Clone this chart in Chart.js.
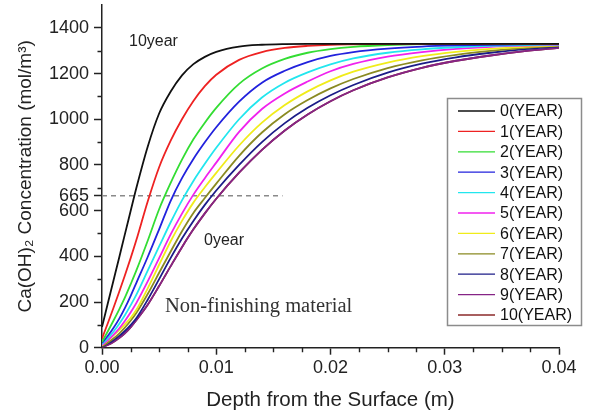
<!DOCTYPE html>
<html>
<head>
<meta charset="utf-8">
<script src="https://cdn.jsdelivr.net/npm/chart.js@4.4.1/dist/chart.umd.min.js"></script>
<style>
html,body{margin:0;padding:0;background:#fff;}
canvas{display:block;}
</style>
</head>
<body>
<canvas id="c" width="593" height="419"></canvas>
<script>
// ---- data ----
const depth = [0, 0.0005, 0.001, 0.0015, 0.002, 0.0025, 0.003, 0.004, 0.005, 0.006, 0.007, 0.008, 0.009, 0.010, 0.012, 0.014, 0.016, 0.018, 0.020, 0.022, 0.025, 0.028, 0.031, 0.034, 0.037, 0.040];

const year0  = [91, 192, 293, 394, 496, 597, 698, 880, 1025, 1120, 1192, 1241, 1273, 1295, 1318, 1326, 1329, 1330, 1330, 1330, 1330, 1330, 1330, 1330, 1330, 1330];
const year1  = [40, 106, 174, 244, 316, 391, 470, 640, 790, 905, 1000, 1080, 1145, 1195, 1260, 1294, 1312, 1321, 1326, 1328, 1330, 1330, 1330, 1330, 1330, 1330];
const year2  = [25, 71, 118, 167, 219, 277, 337, 468, 606, 720, 823, 912, 985, 1050, 1155, 1222, 1264, 1291, 1307, 1317, 1325, 1329, 1330, 1330, 1330, 1330];
const year3  = [21, 51, 86, 126, 173, 226, 283, 397, 518, 642, 742, 826, 899, 965, 1077, 1160, 1212, 1250, 1277, 1294, 1309, 1318, 1323, 1326, 1328, 1329];
const year4  = [16, 41, 70, 104, 142, 185, 231, 337, 443, 548, 645, 730, 805, 875, 1000, 1095, 1160, 1205, 1240, 1266, 1291, 1306, 1315, 1321, 1325, 1327];
const year5  = [12, 32, 56, 84, 117, 154, 195, 290, 392, 495, 587, 670, 742, 810, 945, 1045, 1113, 1165, 1210, 1242, 1274, 1294, 1308, 1317, 1322, 1325];
const year6  = [10, 32, 54, 77, 102, 130, 165, 260, 363, 465, 555, 635, 702, 765, 885, 985, 1062, 1122, 1170, 1208, 1248, 1276, 1295, 1308, 1317, 1323];
const year7  = [7, 22, 40, 62, 88, 118, 152, 235, 328, 420, 510, 590, 655, 718, 840, 942, 1022, 1084, 1135, 1176, 1224, 1258, 1282, 1299, 1312, 1322];
const year8  = [5, 18, 33, 51, 73, 99, 129, 210, 300, 392, 478, 555, 625, 688, 800, 900, 983, 1050, 1105, 1150, 1204, 1243, 1271, 1291, 1307, 1319];
const year9  = [3, 12, 25, 42, 63, 89, 120, 188, 270, 356, 440, 518, 588, 652, 766, 866, 951, 1021, 1079, 1127, 1183, 1225, 1256, 1279, 1298, 1313];
const year10 = [3, 12, 25, 42, 63, 89, 120, 188, 270, 356, 440, 518, 588, 652, 766, 866, 951, 1021, 1079, 1127, 1183, 1225, 1256, 1279, 1298, 1313];

const seriesNames = ['0(YEAR)', '1(YEAR)', '2(YEAR)', '3(YEAR)', '4(YEAR)', '5(YEAR)', '6(YEAR)', '7(YEAR)', '8(YEAR)', '9(YEAR)', '10(YEAR)'];
const seriesValues = [year0, year1, year2, year3, year4, year5, year6, year7, year8, year9, year10];

const thresholdDepth = [0, 0.0158];
const thresholdValue = [665, 665];

const xTickValues = [0, 0.01, 0.02, 0.03, 0.04];
const xMinorTicks = [0.0025, 0.005, 0.0075, 0.0125, 0.015, 0.0175, 0.0225, 0.025, 0.0275, 0.0325, 0.035, 0.0375];
const yTickValues = [0, 200, 400, 600, 665, 800, 1000, 1200, 1400];
const yMinorTicks = [100, 300, 500, 700, 900, 1100, 1300];

const annotationTexts = ['10year', '0year', 'Non-finishing material'];

// ---- styles ----
const colors = ['#111111', '#ee2222', '#33dd33', '#2222dd', '#22e6ee', '#f022ee', '#f0ec1a', '#8a8a22', '#1c1c88', '#862486', '#8b2a2a'];
const SANS = '"Liberation Sans", Arial, sans-serif';
const SERIF = '"Liberation Serif", "Times New Roman", serif';

const datasets = seriesValues.map((vals, i) => ({
  label: seriesNames[i],
  data: depth.map((d, k) => ({x: d, y: vals[k]})),
  borderColor: colors[i],
  backgroundColor: colors[i],
  borderWidth: 1.8,
  pointRadius: 0,
  fill: false,
  cubicInterpolationMode: 'monotone'
}));
datasets.push({
  label: 'threshold',
  data: thresholdDepth.map((d, k) => ({x: d, y: thresholdValue[k]})),
  borderColor: '#8a8a8a',
  borderWidth: 1.5,
  borderDash: [5, 4],
  pointRadius: 0,
  fill: false
});

const extras = {
  id: 'extras',
  afterDraw(chart) {
    const ctx = chart.ctx;
    const xs = chart.scales.x, ys = chart.scales.y;
    ctx.save();
    // minor ticks
    ctx.strokeStyle = '#222';
    ctx.lineWidth = 1.4;
    ctx.beginPath();
    yMinorTicks.forEach(v => {
      const py = Math.round(ys.getPixelForValue(v)) + 0.5;
      ctx.moveTo(xs.left - 4.5, py);
      ctx.lineTo(xs.left, py);
    });
    xMinorTicks.forEach(v => {
      const px = Math.round(xs.getPixelForValue(v)) + 0.5;
      ctx.moveTo(px, ys.bottom);
      ctx.lineTo(px, ys.bottom + 4.5);
    });
    ctx.stroke();

    // annotations
    ctx.fillStyle = '#222';
    ctx.textBaseline = 'alphabetic';
    ctx.textAlign = 'left';
    ctx.font = '16px ' + SANS;
    ctx.fillText(annotationTexts[0], 129, 46);
    ctx.fillText(annotationTexts[1], 204, 245);
    ctx.fillStyle = '#333';
    ctx.font = '20.5px ' + SERIF;
    ctx.fillText(annotationTexts[2], 165, 312);

    // legend
    const lx = 447.5, ly = 98.5, lw = 134, lh = 227;
    ctx.strokeStyle = '#8c8c8c';
    ctx.lineWidth = 1.5;
    ctx.strokeRect(lx, ly, lw, lh);
    ctx.font = '16px ' + SANS;
    ctx.textBaseline = 'middle';
    seriesNames.forEach((name, i) => {
      const ry = 111 + i * 20.4;
      ctx.strokeStyle = colors[i];
      ctx.lineWidth = 1.3;
      ctx.beginPath();
      ctx.moveTo(458, ry);
      ctx.lineTo(495, ry);
      ctx.stroke();
      ctx.fillStyle = '#111';
      ctx.fillText(name, 500, ry + 1);
    });
    ctx.restore();
  }
};

new Chart(document.getElementById('c'), {
  type: 'line',
  data: { datasets },
  options: {
    responsive: false,
    animation: false,
    layout: { padding: { left: 0, right: 34, top: 5, bottom: 0 } },
    plugins: { legend: { display: false }, tooltip: { enabled: false } },
    scales: {
      x: {
        type: 'linear',
        min: 0, max: 0.04,
        afterFit(s) { s.height = 71.3; s.paddingLeft = 0; s.paddingRight = 0; },
        afterBuildTicks(s) { s.ticks = xTickValues.map(v => ({value: v})); },
        ticks: {
          autoSkip: false, maxRotation: 0, padding: 3,
          color: '#222',
          font: { family: SANS, size: 18 },
          callback: v => Number(v).toFixed(2)
        },
        grid: { drawOnChartArea: false, drawTicks: true, tickLength: 7, tickColor: '#222', tickWidth: 1.5 },
        border: { display: true, color: '#222', width: 1.5 },
        title: { display: true, text: 'Depth from the Surface (m)', color: '#222', font: { family: SANS, size: 20.5 }, padding: { top: 0, bottom: 6 } }
      },
      y: {
        type: 'linear',
        min: 0, max: 1500,
        afterFit(s) { s.width = 102; s.paddingTop = 0; s.paddingBottom = 0; },
        afterBuildTicks(s) { s.ticks = yTickValues.map(v => ({value: v})); },
        ticks: {
          autoSkip: false, padding: 5,
          color: '#222',
          font: { family: SANS, size: 18 },
          callback: v => String(v)
        },
        grid: { drawOnChartArea: false, drawTicks: true, tickLength: 8, tickColor: '#222', tickWidth: 1.5 },
        border: { display: true, color: '#222', width: 1.5 },
        title: { display: true, text: 'Ca(OH)₂ Concentration (mol/m³)', color: '#222', font: { family: SANS, size: 19 }, padding: { top: 14, bottom: 0 } }
      }
    }
  },
  plugins: [extras]
});
</script>
</body>
</html>
